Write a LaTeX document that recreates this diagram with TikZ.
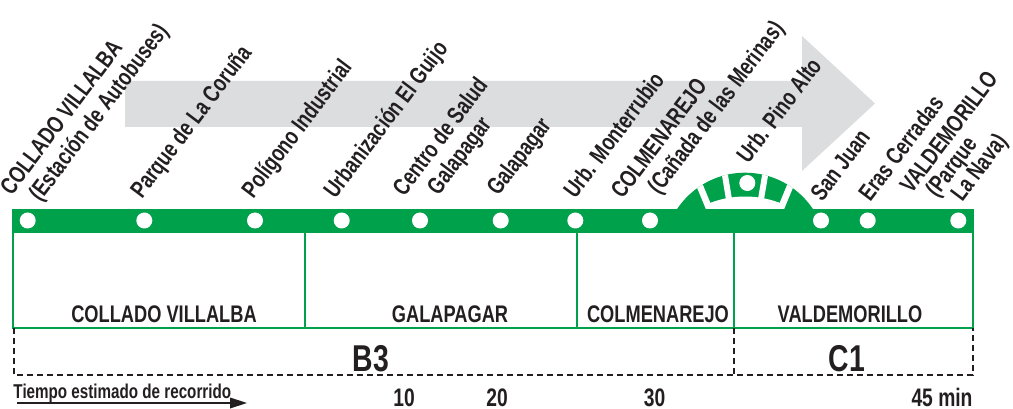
\documentclass[tikz,border=0pt]{standalone}
\usepackage{fontspec}
\setmainfont{Liberation Sans}[FakeStretch=0.76]

\definecolor{lineagreen}{RGB}{0,161,75}
\definecolor{arrowgray}{RGB}{220,221,223}
\definecolor{inkblack}{RGB}{35,31,32}

\tikzset{every picture/.style={line width=0.75pt}}
\tikzset{
  stopdot/.style={circle, fill=white, inner sep=0pt, minimum size=12pt},
  stoplbl/.style={rotate=53, anchor=base west, inner sep=0pt, align=left, text=inkblack, font=\bfseries\fontsize{18}{20}\selectfont},
  zonelbl/.style={anchor=base, inner sep=0pt, text=inkblack, font=\bfseries\fontsize{18}{21}\selectfont},
  linelbl/.style={anchor=base, inner sep=0pt, text=inkblack, font=\bfseries\fontsize{28}{32}\selectfont},
  timelbl/.style={anchor=base, inner sep=0pt, text=inkblack, font=\bfseries\fontsize{19}{22}\selectfont},
  zoneframe/.style={lineagreen, line width=1.5pt},
  lineframe/.style={inkblack, line width=1.5pt, dash pattern=on 4.5pt off 3pt}
}

\begin{document}
\begin{tikzpicture}[x=0.75pt,y=0.75pt,yscale=-1,xscale=1]
	\useasboundingbox (0,0) rectangle (1013,409);
	
	%Shape: Arrow [direction of travel]
	\fill [arrowgray] (125,81) -- (802,81) -- (802,36) -- (875,103.5) -- (802,171) -- (802,127) -- (125,127) -- cycle ;
	
	%Shape: Rectangle [municipalities]
	\draw [zoneframe] (13,232) rectangle (973,328) ;
	%Straight Lines
	\draw [zoneframe] (305,232) -- (305,328) ;
	\draw [zoneframe] (577,232) -- (577,328) ;
	\draw [zoneframe] (734,232) -- (734,328) ;
	
	%Shape: Dashed frame [fare zones]
	\draw [lineframe] (14,328) -- (14,375) -- (973,375) -- (973,328) ;
	\draw [lineframe] (734,328) -- (734,375) ;
	
	%Shape: Dome [Urb. Pino Alto]
	\begin{scope}
		\clip (650,140) rectangle (840,210) ;
		\fill [lineagreen] (745,254.3) circle (81.6) ;
		\begin{scope}[shift={(745,295)}]
			\clip (0,-40.7) circle (81.6) ;
			\draw [white, line width=9.75pt] (-112.5:92) arc [start angle=-112.5, end angle=-67.5, radius=92] ;
			\draw [white, line width=4.9pt] (-112.5:80) -- (-112.5:140) ;
			\draw [white, line width=4.5pt] (-99.5:80) -- (-99.5:140) ;
			\draw [white, line width=4.5pt] (-80.5:80) -- (-80.5:140) ;
			\draw [white, line width=4.9pt] (-67.5:80) -- (-67.5:140) ;
		\end{scope}
	\end{scope}
	
	%Shape: Rectangle [line bar]
	\fill [lineagreen] (12,209.5) rectangle (974,232.5) ;
	
	%Shape: Circles [stops]
	\node [stopdot] (villalba) at (27.7,220.5) {};
	\node [stopdot] (coruna) at (144.3,220.5) {};
	\node [stopdot] (poligono) at (255,220.5) {};
	\node [stopdot] (guijo) at (341.7,220.5) {};
	\node [stopdot] (salud) at (420,220.5) {};
	\node [stopdot] (galapagar) at (500.7,220.5) {};
	\node [stopdot] (monterrubio) at (575.3,220.5) {};
	\node [stopdot] (colmenarejo) at (650,220.5) {};
	\node [stopdot] (pinoalto) at (747.3,183) {};
	\node [stopdot] (sanjuan) at (821,220.5) {};
	\node [stopdot] (eras) at (867.7,220.5) {};
	\node [stopdot] (valdemorillo) at (958.3,220.5) {};
	
	% Text Node
	\node [stoplbl] (villalba-lbl) at (32.8,212.6) {COLLADO VILLALBA\\\hspace*{9pt}(Estación de Autobuses)};
	% Text Node
	\node [stoplbl] (coruna-lbl) at (141.7,200) {Parque de La Coruña};
	% Text Node
	\node [stoplbl] (poligono-lbl) at (253,200) {Polígono Industrial};
	% Text Node
	\node [stoplbl] (guijo-lbl) at (335,200) {Urbanización El Guijo};
	% Text Node
	\node [stoplbl] (salud-lbl) at (425.4,213.5) {Centro de Salud\\\hspace*{16pt}Galapagar};
	% Text Node
	\node [stoplbl] (galapagar-lbl) at (498,197) {Galapagar};
	% Text Node
	\node [stoplbl] (monterrubio-lbl) at (575,200) {Urb. Monterrubio};
	% Text Node
	\node [stoplbl] (colmenarejo-lbl) at (643.6,216.4) {COLMENAREJO\\\hspace*{19pt}(Cañada de las Merinas)};
	% Text Node
	\node [stoplbl] (pinoalto-lbl) at (748,165) {Urb. Pino Alto};
	% Text Node
	\node [stoplbl] (sanjuan-lbl) at (822,203) {San Juan};
	% Text Node
	\node [stoplbl] (eras-lbl) at (870,203) {Eras Cerradas};
	% Text Node
	\node [stoplbl, font=\bfseries\fontsize{18}{17}\selectfont] (valdemorillo-lbl) at (947.6,222.2) {VALDEMORILLO\\\hspace*{9pt}(Parque\\\hspace*{18pt}La Nava)};
	
	% Text Node
	\node [zonelbl] (villalba-zone) at (164,322.7) {COLLADO VILLALBA};
	% Text Node
	\node [zonelbl] (galapagar-zone) at (450,322.7) {GALAPAGAR};
	% Text Node
	\node [zonelbl] (colmenarejo-zone) at (658,322.7) {COLMENAREJO};
	% Text Node
	\node [zonelbl] (valdemorillo-zone) at (850,322.7) {VALDEMORILLO};
	
	% Text Node
	\node [linelbl] (b3) at (371,371.7) {B3};
	% Text Node
	\node [linelbl] (c1) at (847,371.7) {C1};
	
	% Text Node
	\node [timelbl, anchor=base west, font=\bfseries\fontsize{15}{18}\selectfont] (tiempo) at (13,398.3) {Tiempo estimado de recorrido};
	%Straight Lines
	\coordinate (tiempo-start) at (17,403) ;
	\coordinate (tiempo-end) at (231,403) ;
	\coordinate (tiempo-tip) at (247,403) ;
	\draw [inkblack, line width=1.5pt] (tiempo-start) -- (tiempo-end) ;
	\fill [inkblack, shift={(tiempo-tip)}, rotate=180] (17,-5.5) -- (0,0) -- (17,5.5) -- cycle ;
	
	% Text Node
	\node [timelbl] (t10) at (404,406) {10};
	% Text Node
	\node [timelbl] (t20) at (497,406) {20};
	% Text Node
	\node [timelbl] (t30) at (654.5,406) {30};
	% Text Node
	\node [timelbl, anchor=base east] (t45) at (973,406) {45 min};
	
\end{tikzpicture}
\end{document}
